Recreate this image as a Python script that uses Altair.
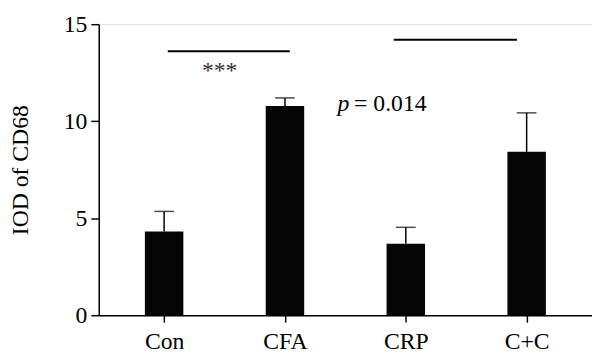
import altair as alt
import pandas as pd

groups = ["Con", "CFA", "CRP", "C+C"]
positions = [0.5, 1.5, 2.5, 3.5]
means = [4.31, 10.78, 3.68, 8.42]
uppers = [5.35, 11.2, 4.53, 10.43]

sig_x = [0.53, 2.4]
sig_x2 = [1.54, 3.42]
sig_y = [13.6, 14.2]

star_text = ["***"]
star_x = [0.96]
star_y = [12.6]

p_label = ["p"]
p_value = ["= 0.014"]
p_x = [1.934]
p_x2 = [2.672]
p_y = [10.9]

FONT = "Times New Roman, Liberation Serif, Tinos, serif"

df = pd.DataFrame({"group": groups, "pos": positions, "mean": means, "upper": uppers})
sig = pd.DataFrame({"x": sig_x, "x2": sig_x2, "y": sig_y})
stars = pd.DataFrame({"t": star_text, "x": star_x, "y": star_y})
pl = pd.DataFrame({"t": p_label, "x": p_x, "y": p_y})
pv = pd.DataFrame({"t": p_value, "x": p_x2, "y": p_y})

label_expr = ("datum.value == 0.5 ? 'Con' : datum.value == 1.5 ? 'CFA' : "
              "datum.value == 2.5 ? 'CRP' : datum.value == 3.5 ? 'C+C' : ''")

xscale = alt.Scale(domain=[0, 4], nice=False, zero=False)
yscale = alt.Scale(domain=[0, 15], nice=False)

xaxis = alt.Axis(values=positions, labelExpr=label_expr, title=None, grid=False,
                 tickSize=7, labelPadding=8, labelFont=FONT, labelFontSize=24,
                 labelColor="black", domainColor="black", tickColor="black",
                 domainWidth=1.5, tickWidth=1.5)
yaxis = alt.Axis(values=[0, 5, 10, 15], title="IOD of CD68", grid=False,
                 tickSize=8, labelPadding=4, labelFont=FONT, labelFontSize=24,
                 labelColor="black", titleFont=FONT, titleFontSize=24,
                 titleFontWeight="normal", titleColor="black", titlePadding=31,
                 domainColor="black", tickColor="black", domainWidth=1.5, tickWidth=1.5)

base = alt.Chart(df)
bars = base.mark_bar(color="#050505", size=39).encode(
    x=alt.X("pos:Q", scale=xscale, axis=xaxis),
    y=alt.Y("mean:Q", scale=yscale, axis=yaxis),
)
err = base.mark_rule(color="black", strokeWidth=1.5).encode(
    x="pos:Q", y="mean:Q", y2="upper:Q"
)
cap = base.mark_tick(color="black", orient="horizontal", size=20, thickness=1.5).encode(
    x="pos:Q", y="upper:Q"
)
siglines = alt.Chart(sig).mark_rule(color="black", strokeWidth=2).encode(
    x="x:Q", x2="x2:Q", y="y:Q"
)
startxt = alt.Chart(stars).mark_text(font=FONT, fontSize=24, color="#333", baseline="middle").encode(
    x="x:Q", y="y:Q", text="t:N"
)
ptxt = alt.Chart(pl).mark_text(font=FONT, fontSize=24, fontStyle="italic", color="black",
                               align="left", baseline="middle").encode(
    x="x:Q", y="y:Q", text="t:N"
)
pvtxt = alt.Chart(pv).mark_text(font=FONT, fontSize=24, color="black",
                                align="right", baseline="middle").encode(
    x="x:Q", y="y:Q", text="t:N"
)

chart = alt.layer(bars, err, cap, siglines, startxt, ptxt, pvtxt).properties(
    width=500, height=295,
    autosize=alt.AutoSizeParams(type="none"),
    padding={"left": 92, "top": 14, "right": 0, "bottom": 44},
).configure_view(stroke=None).configure(background="white")

chart.save("out.html", embed_options={"renderer": "svg", "actions": False})
